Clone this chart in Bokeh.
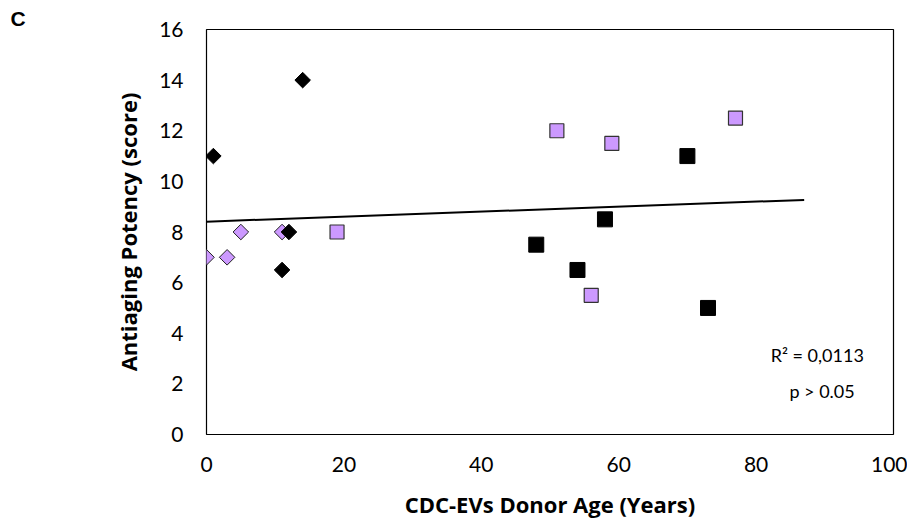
import numpy as np
from bokeh.plotting import figure
from bokeh.models import Range1d, Label, FixedTicker
from bokeh.embed import file_html
from bokeh.resources import INLINE
from math import pi

# Data (donor age in years, antiaging potency score)
black_diamond_x = [1, 14, 12, 11]
black_diamond_y = [11, 14, 8, 6.5]
purple_diamond_x = [0, 3, 5, 11]
purple_diamond_y = [7, 7, 8, 8]
purple_square_x = [19, 51, 59, 56, 77]
purple_square_y = [8, 12, 11.5, 5.5, 12.5]
black_square_x = [48, 54, 58, 70, 73]
black_square_y = [7.5, 6.5, 8.5, 11, 5]
trend_x = [0, 87]
x_ticks = [0, 20, 40, 60, 80, 100]
y_ticks = [0, 2, 4, 6, 8, 10, 12, 14, 16]

all_x = np.array(black_diamond_x + purple_diamond_x + purple_square_x + black_square_x, dtype=float)
all_y = np.array(black_diamond_y + purple_diamond_y + purple_square_y + black_square_y, dtype=float)
slope, intercept = np.polyfit(all_x, all_y, 1)
trend_y = [intercept + slope * t for t in trend_x]

FONT = "Lato"
PURPLE = "#CC99FF"

p = figure(width=907, height=521, output_backend="svg", toolbar_location=None,
           x_range=Range1d(0, 100), y_range=Range1d(0, 16),
           min_border_left=206, min_border_right=14, min_border_top=29, min_border_bottom=84)
p.grid.visible = False
p.outline_line_color = "black"
p.outline_line_width = 1.2
p.background_fill_color = "white"
p.border_fill_color = "white"

p.title.text = "C"
p.title.align = "left"
p.title.offset = -196
p.title.text_font = "Liberation Sans"
p.title.text_font_style = "bold"
p.title.text_font_size = "21px"
p.title.text_color = "black"
p.title.standoff = 0
p.title.vertical_align = "bottom"

for ax in (p.xaxis, p.yaxis):
    ax.axis_line_color = None
    ax.major_tick_line_color = None
    ax.minor_tick_line_color = None
    ax.major_label_text_font = FONT
    ax.major_label_text_font_size = "21px"
    ax.major_label_text_color = "black"
    ax.axis_label_text_font = "Open Sans"
    ax.axis_label_text_font_style = "bold"
    ax.axis_label_text_font_size = "22px"
    ax.axis_label_text_color = "black"

p.xaxis.ticker = FixedTicker(ticks=x_ticks)
p.yaxis.ticker = FixedTicker(ticks=y_ticks)
p.xaxis.major_label_standoff = 16
p.yaxis.major_label_standoff = 17
p.xaxis.axis_label = "CDC-EVs Donor Age (Years)"
p.yaxis.axis_label = "Antiaging Potency (score)"
p.xaxis.axis_label_standoff = 14
p.yaxis.axis_label_standoff = 13

p.line(trend_x, trend_y, line_color="black", line_width=2)

p.scatter(purple_diamond_x, purple_diamond_y, marker="square", angle=pi / 4, size=11,
          fill_color=PURPLE, line_color="#222222", line_width=1)
p.scatter(black_diamond_x, black_diamond_y, marker="square", angle=pi / 4, size=11,
          fill_color="black", line_color="black", line_width=1)
p.scatter(purple_square_x, purple_square_y, marker="square", size=14,
          fill_color=PURPLE, line_color="#333333", line_width=1.2)
p.scatter(black_square_x, black_square_y, marker="square", size=15,
          fill_color="black", line_color="black", line_width=1)

p.add_layout(Label(x=88.9, y=3.15, text="R² = 0,0113", text_color="black",
                   text_font=FONT, text_font_size="18px", text_align="center",
                   text_baseline="middle"))
p.add_layout(Label(x=89.6, y=1.73, text="p > 0.05", text_color="black",
                   text_font=FONT, text_font_size="18px", text_align="center",
                   text_baseline="middle"))

open("out.html", "w").write(file_html(p, INLINE))
